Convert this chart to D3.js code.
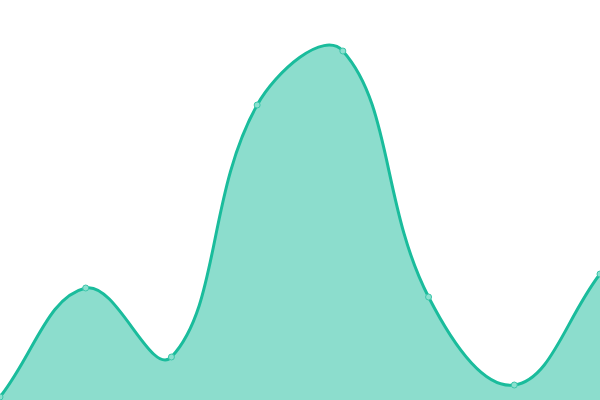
<!DOCTYPE html>
<html><head><meta charset="utf-8">
<script src="https://cdn.jsdelivr.net/npm/d3@7"></script>
<style>html,body{margin:0;padding:0;background:#fff;overflow:hidden}</style>
</head><body>
<svg id="c" width="600" height="400"></svg>
<script>
const categories = [0,1,2,3,4,5,6,7];
const values = [3, 112, 43, 295, 349, 103, 15, 126];

const W = 600, H = 400;
const svg = d3.select("#c");
const x = d3.scaleLinear().domain([0, categories.length - 1]).range([0, W]);
const y = d3.scaleLinear().domain([0, 400]).range([H, 0]);
const data = categories.map((c, i) => ({c, v: values[i]}));

// Distance-weighted tension spline (Chart.js style), as a d3 curve factory
function TensionSpline(context, t) { this._context = context; this._t = t; }
TensionSpline.prototype = {
  areaStart() { this._line = 0; },
  areaEnd() { this._line = NaN; },
  lineStart() { this._x = []; this._y = []; },
  point(px, py) { this._x.push(+px); this._y.push(+py); },
  lineEnd() {
    const X = this._x, Y = this._y, n = X.length, ctx = this._context, t = this._t;
    const clampX = v => Math.max(0, Math.min(W, v));
    const clampY = v => Math.max(0, Math.min(H, v));
    if (n) {
      this._line ? ctx.lineTo(X[0], Y[0]) : ctx.moveTo(X[0], Y[0]);
      if (n === 2) ctx.lineTo(X[1], Y[1]);
      else if (n > 2) {
        const cpPrev = [], cpNext = [];
        for (let i = 0; i < n; i++) {
          const pi = Math.max(0, i - 1), ni = Math.min(n - 1, i + 1);
          const d01 = Math.hypot(X[i] - X[pi], Y[i] - Y[pi]);
          const d12 = Math.hypot(X[ni] - X[i], Y[ni] - Y[i]);
          let s01 = d01 / (d01 + d12), s12 = d12 / (d01 + d12);
          if (!isFinite(s01)) s01 = 0; if (!isFinite(s12)) s12 = 0;
          const fa = t * s01, fb = t * s12;
          const dx = X[ni] - X[pi], dy = Y[ni] - Y[pi];
          cpPrev.push([clampX(X[i] - fa * dx), clampY(Y[i] - fa * dy)]);
          cpNext.push([clampX(X[i] + fb * dx), clampY(Y[i] + fb * dy)]);
        }
        for (let i = 1; i < n; i++) {
          ctx.bezierCurveTo(cpNext[i-1][0], cpNext[i-1][1], cpPrev[i][0], cpPrev[i][1], X[i], Y[i]);
        }
      }
    }
    if (this._line || (this._line !== 0 && n === 1)) ctx.closePath();
    this._line = 1 - this._line;
  }
};
const curve = ctx => new TensionSpline(ctx, 0.4);

svg.append("path").datum(data)
  .attr("d", d3.area().x(d => x(d.c)).y0(y(0)).y1(d => y(d.v)).curve(curve))
  .attr("fill", "#1abc9c").attr("fill-opacity", 0.5);
svg.append("path").datum(data)
  .attr("d", d3.line().x(d => x(d.c)).y(d => y(d.v)).curve(curve))
  .attr("fill", "none").attr("stroke", "#1abc9c").attr("stroke-width", 3);
svg.selectAll("circle").data(data).join("circle")
  .attr("cx", d => x(d.c)).attr("cy", d => y(d.v)).attr("r", 3)
  .attr("fill", "#8be0cf").attr("stroke", "#3cc6aa").attr("stroke-width", 1);
</script>
</body></html>
